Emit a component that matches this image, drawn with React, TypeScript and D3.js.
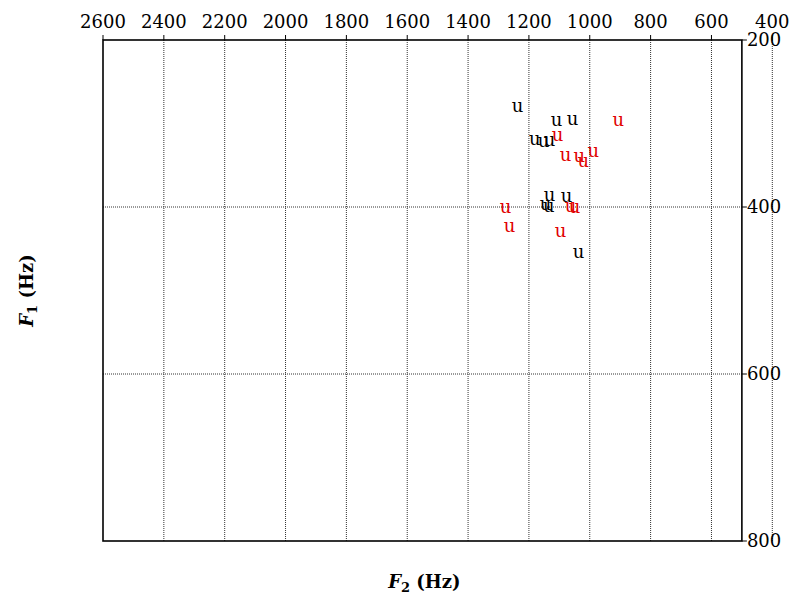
import React from "react";
import * as d3 from "d3";

// Vowel tokens of /u/ plotted in the F2–F1 plane (Hz)
const blackF2 = [1237, 1109, 1057, 1181, 1152, 1132, 1132, 1076, 1145, 1135, 1037];
const blackF1 = [281, 297, 296, 320, 322, 321, 387, 389, 398, 400, 455];
const redF2 = [906, 1106, 1080, 1034, 1021, 988, 1063, 1050, 1277, 1264, 1096];
const redF1 = [297, 315, 339, 340, 347, 334, 400, 402, 402, 424, 430];
const vowelLabel = "u";

const f2Ticks = [2600, 2400, 2200, 2000, 1800, 1600, 1400, 1200, 1000, 800, 600, 400];
const f1Ticks = [200, 400, 600, 800];

const W = 791;
const H = 594;
const left = 103;
const top = 40;
const bottom = 541;
const font = "DejaVu Serif";

export default function App() {
  // F2 runs right-to-left; the frame stops at 500 Hz while the scale keeps going to 400.
  const x = d3.scaleLinear().domain([2600, 400]).range([left, 772.3]);
  const y = d3.scaleLinear().domain([200, 800]).range([top, bottom]);
  const right = x(500);

  const series = [
    { f2: blackF2, f1: blackF1, color: "#000000" },
    { f2: redF2, f1: redF1, color: "#e00000" },
  ];

  return (
    <svg
      width={W}
      height={H}
      viewBox={`0 0 ${W} ${H}`}
      style={{ position: "absolute", left: 0, top: 0, background: "#fff" }}
    >
      <rect x={0} y={0} width={W} height={H} fill="#fff" />
      {/* vertical grid + top ticks */}
      {f2Ticks.map((t) => (
        <g key={`vx${t}`}>
          {t !== 2600 && (
            <line
              x1={x(t)}
              x2={x(t)}
              y1={top}
              y2={bottom}
              stroke="#333"
              strokeWidth={1}
              strokeDasharray="1 1"
            />
          )}
          <line x1={x(t)} x2={x(t)} y1={top - 5} y2={top} stroke="#000" strokeWidth={1} />
          <text
            x={x(t)}
            y={28}
            textAnchor="middle"
            fontFamily={font}
            fontSize={18}
            fill="#000"
          >
            {t}
          </text>
        </g>
      ))}
      {/* horizontal grid + right ticks */}
      {f1Ticks.map((t) => (
        <g key={`hy${t}`}>
          {t !== 200 && t !== 800 && (
            <line
              x1={left}
              x2={right}
              y1={y(t)}
              y2={y(t)}
              stroke="#333"
              strokeWidth={1}
              strokeDasharray="1 1"
            />
          )}
          <line x1={right} x2={right + 5} y1={y(t)} y2={y(t)} stroke="#000" strokeWidth={1} />
          <text
            x={right + 5}
            y={y(t)}
            dy="0.36em"
            textAnchor="start"
            fontFamily={font}
            fontSize={18}
            fill="#000"
          >
            {t}
          </text>
        </g>
      ))}
      {/* frame */}
      <rect
        x={left}
        y={top}
        width={right - left}
        height={bottom - top}
        fill="none"
        stroke="#000"
        strokeWidth={1.6}
      />
      {/* tokens */}
      {series.map((s, si) =>
        s.f2.map((v, i) => (
          <text
            key={`p${si}-${i}`}
            x={x(v)}
            y={y(s.f1[i])}
            dy="0.26em"
            textAnchor="middle"
            fontFamily={font}
            fontSize={18}
            fill={s.color}
          >
            {vowelLabel}
          </text>
        ))
      )}
      {/* axis titles */}
      <text
        x={(left + right) / 2 + 2}
        y={588}
        textAnchor="middle"
        fontFamily={font}
        fontSize={18}
        fontWeight="bold"
        fill="#000"
      >
        <tspan fontStyle="italic">F</tspan>
        <tspan fontSize={13} dy={4}>2</tspan>
        <tspan dy={-4}> (Hz)</tspan>
      </text>
      <text
        transform={`translate(33, ${(top + bottom) / 2}) rotate(-90)`}
        textAnchor="middle"
        fontFamily={font}
        fontSize={18}
        fontWeight="bold"
        fill="#000"
      >
        <tspan fontStyle="italic">F</tspan>
        <tspan fontSize={13} dy={4}>1</tspan>
        <tspan dy={-4}> (Hz)</tspan>
      </text>
    </svg>
  );
}
